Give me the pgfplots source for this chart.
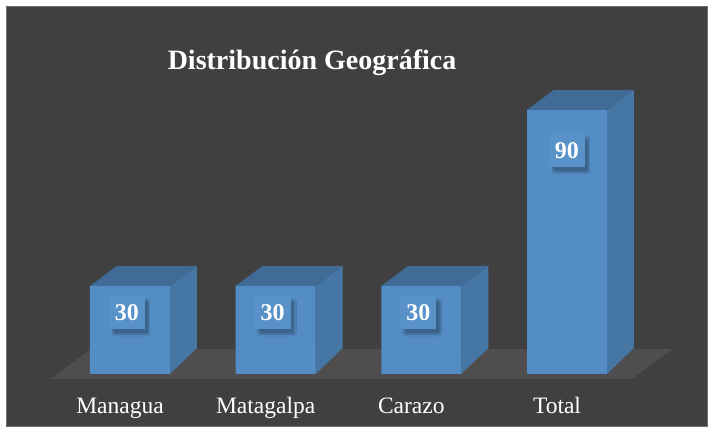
\documentclass[border=0pt]{standalone}
\usepackage{fontspec}
\setmainfont{Liberation Serif}
\usepackage{pgfplots}
\pgfplotsset{compat=1.18}
\usetikzlibrary{shadows.blur}

\definecolor{bgdark}{RGB}{64,64,64}
\definecolor{bgline}{RGB}{112,112,112}
\definecolor{floorc}{RGB}{79,77,77}
\definecolor{barfront}{RGB}{84,141,197}
\definecolor{barside}{RGB}{70,118,164}
\definecolor{bartop}{RGB}{63,107,150}
\definecolor{lblbox}{RGB}{89,146,201}

\begin{document}
\begin{tikzpicture}
\useasboundingbox (0,0) rectangle (714pt,433pt);
\fill[white] (0,0) rectangle (714pt,433pt);
\draw[bgline, line width=1.5pt, fill=bgdark] (6.5pt,6.5pt) rectangle (707.5pt,426.5pt);

\begin{axis}[
    at={(0pt,45pt)}, anchor=south west,
    scale only axis,
    width=714pt, height=388pt,
    xmin=-0.8924, xmax=4.0093,
    ymin=-4.773, ymax=127.5,
    clip=false,
    axis line style={draw=none},
    major tick length=0pt,
    ytick=\empty,
    xtick={0,1,2,3},
    xticklabels={Managua,Matagalpa,Carazo,Total},
    x tick label style={font=\fontsize{23.5}{28}\selectfont, text=white,
        anchor=base, yshift=-26pt, xshift=-10pt},
    title={Distribución Geográfica},
    title style={font=\fontsize{28}{32}\selectfont\bfseries, text=white,
        at={(axis description cs:0.437,0.822)}, anchor=center},
    /pgf/number format/assume math mode=true,
    every node near coord/.append style={
        font=\fontsize{24}{26}\selectfont\bfseries, text=white,
        fill=lblbox, minimum width=36pt, minimum height=34pt, inner sep=0pt,
        blur shadow={shadow xshift=4pt, shadow yshift=-5pt,
            shadow blur steps=6, shadow blur extra rounding=2pt,
            shadow opacity=30}},
]

% floor
\addplot[fill=floorc, draw=none] coordinates
    {(-0.549,-1.70) (3.446,-1.70) (3.728,8.52) (-0.268,8.52)} -- cycle;

% side faces
\addplot[fill=barside, draw=none] coordinates
    {(0.2746,0) (0.2746,30) (0.4599,36.9) (0.4599,8.86)} -- cycle;
\addplot[fill=barside, draw=none] coordinates
    {(1.2746,0) (1.2746,30) (1.4599,36.9) (1.4599,8.86)} -- cycle;
\addplot[fill=barside, draw=none] coordinates
    {(2.2746,0) (2.2746,30) (2.4599,36.9) (2.4599,8.86)} -- cycle;
\addplot[fill=barside, draw=none] coordinates
    {(3.2746,0) (3.2746,90) (3.4599,96.9) (3.4599,8.86)} -- cycle;

% top faces
\addplot[fill=bartop, draw=none] coordinates
    {(-0.2746,30) (-0.0893,36.9) (0.4599,36.9) (0.2746,30)} -- cycle;
\addplot[fill=bartop, draw=none] coordinates
    {(0.7254,30) (0.9107,36.9) (1.4599,36.9) (1.2746,30)} -- cycle;
\addplot[fill=bartop, draw=none] coordinates
    {(1.7254,30) (1.9107,36.9) (2.4599,36.9) (2.2746,30)} -- cycle;
\addplot[fill=bartop, draw=none] coordinates
    {(2.7254,90) (2.9107,96.9) (3.4599,96.9) (3.2746,90)} -- cycle;

% front faces with value labels
\addplot[ybar, bar width=80pt, fill=barfront, draw=none,
    nodes near coords, nodes near coords align={below},
    every node near coord/.append style={yshift=-9pt, xshift=-3pt}]
    coordinates {(0,30) (1,30) (2,30)};
\addplot[ybar, bar width=80pt, fill=barfront, draw=none,
    nodes near coords, nodes near coords align={below},
    every node near coord/.append style={yshift=-23pt}]
    coordinates {(3,90)};

\end{axis}
\end{tikzpicture}
\end{document}
